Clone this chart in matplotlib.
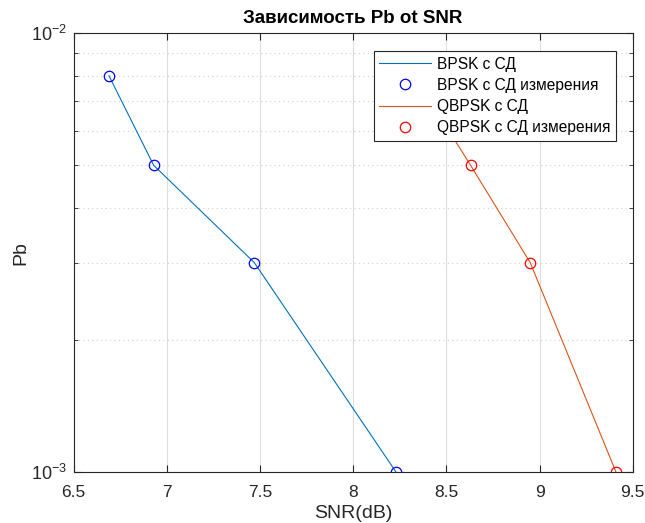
import numpy as np
import matplotlib
matplotlib.use('Agg')
from matplotlib import pyplot as plt
from matplotlib.ticker import LogLocator, NullFormatter

plt.rcParams['font.family'] = ['Liberation Sans', 'DejaVu Sans']
plt.rcParams['mathtext.fontset'] = 'custom'
plt.rcParams['mathtext.rm'] = 'Liberation Sans'
plt.rcParams['mathtext.it'] = 'Liberation Sans'

# data
snr_bpsk = [6.69, 6.93, 7.47, 8.23]
pb_bpsk = [8e-3, 5e-3, 3e-3, 1e-3]
snr_qbpsk = [8.33, 8.63, 8.95, 9.41]
pb_qbpsk = [8e-3, 5e-3, 3e-3, 1e-3]

xticks = [6.5, 7, 7.5, 8, 8.5, 9, 9.5]

fig = plt.figure(figsize=(6.45, 5.23), dpi=100)
ax = fig.add_axes([0.114, 0.0975, 0.867, 0.839])

ax.semilogy(snr_bpsk, pb_bpsk, color='#0072BD', lw=0.8, label='BPSK с СД')
ax.semilogy(snr_bpsk, pb_bpsk, 'o', mfc='none', mec='blue', ms=7.5, mew=0.9,
            label='BPSK с СД измерения')
ax.semilogy(snr_qbpsk, pb_qbpsk, color='#D95319', lw=0.8, label='QBPSK с СД')
ax.semilogy(snr_qbpsk, pb_qbpsk, 'o', mfc='none', mec='red', ms=7.5, mew=0.9,
            label='QBPSK с СД измерения')

ax.set_xlim(6.5, 9.5)
ax.set_ylim(1e-3, 1e-2)
ax.set_xticks(xticks)
ax.set_xticklabels([('%g' % t) for t in xticks])
ax.yaxis.set_major_locator(LogLocator(base=10, numticks=5))
ax.yaxis.set_minor_locator(LogLocator(base=10, subs=np.arange(2, 10), numticks=20))
ax.yaxis.set_minor_formatter(NullFormatter())

ax.grid(True, which='major', color='#dcdcdc', lw=0.8)
ax.grid(True, which='minor', axis='y', color='#d0d0d0', ls=(0, (1, 3)), lw=0.8)
ax.set_axisbelow(True)

ax.tick_params(which='both', direction='in', top=True, right=True,
               labelsize=12.5, colors='#262626')
ax.tick_params(axis='x', pad=9)
ax.tick_params(axis='y', pad=5, labelsize=13)
ax.tick_params(which='major', length=5)
ax.tick_params(which='minor', length=3)
for s in ax.spines.values():
    s.set_color('#262626')
    s.set_linewidth(0.8)

ax.set_title('Зависимость Pb ot SNR', fontsize=13.5, fontweight='bold', pad=7)
ax.set_xlabel('SNR(dB)', fontsize=14, color='#262626', labelpad=4)
ax.set_ylabel('Pb', fontsize=14, color='#262626', labelpad=1)

leg = ax.legend(loc='upper right', bbox_to_anchor=(0.97, 0.959), fontsize=11.2,
                fancybox=False, framealpha=1, edgecolor='#262626',
                borderpad=0.35, labelspacing=0.4, handlelength=3.3,
                handletextpad=0.4, borderaxespad=0)
leg.get_frame().set_linewidth(0.8)

fig.savefig('out.png', dpi=100)
